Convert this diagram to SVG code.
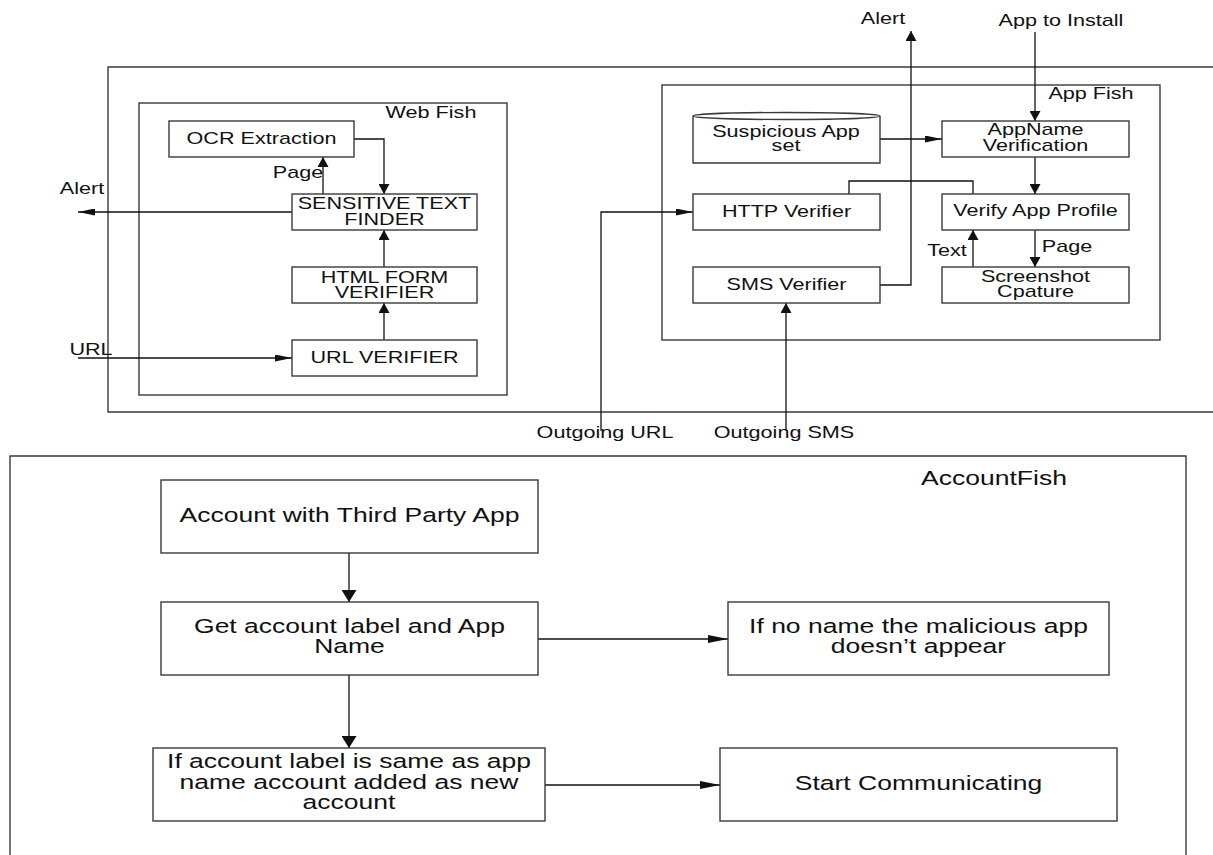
<svg xmlns="http://www.w3.org/2000/svg" width="1213" height="855" viewBox="0 0 1213 855">
  <style>
    .frame { fill: none; stroke: #3a3a3a; stroke-width: 1.4; }
    .box { fill: #ffffff; stroke: #3a3a3a; stroke-width: 1.4; }
    .wire { fill: none; stroke: #111111; stroke-width: 1.3; }
    .t { font-family: "Liberation Sans", Arial, sans-serif; font-size: 16px; fill: #111111; text-anchor: middle; }
    .tl { font-family: "Liberation Sans", Arial, sans-serif; font-size: 19.5px; fill: #111111; text-anchor: middle; }
  </style>
  <defs>
    <!-- arrowheads: horizontal runs get a long slim head, vertical runs a short wide one -->
    <marker id="ah" markerUnits="userSpaceOnUse" markerWidth="17" markerHeight="7" refX="17" refY="3.5" orient="auto">
      <path d="M0,0 L17,3.5 L0,7 Z" fill="#111"/>
    </marker>
    <marker id="av" markerUnits="userSpaceOnUse" markerWidth="10" markerHeight="11" refX="10" refY="5.5" orient="auto">
      <path d="M0,0 L10,5.5 L0,11 Z" fill="#111"/>
    </marker>
    <marker id="ahL" markerUnits="userSpaceOnUse" markerWidth="20" markerHeight="8" refX="20" refY="4" orient="auto">
      <path d="M0,0 L20,4 L0,8 Z" fill="#111"/>
    </marker>
    <marker id="avL" markerUnits="userSpaceOnUse" markerWidth="12" markerHeight="15" refX="12" refY="7.5" orient="auto">
      <path d="M0,0 L12,7.5 L0,15 Z" fill="#111"/>
    </marker>
  </defs>

  <rect width="1213" height="855" fill="#ffffff"/>

  <!-- outer containers -->
  <g id="device">
    <path class="frame" d="M1213,67 H108 V412 H1213"/>
  </g>
  <g id="web-fish">
    <rect class="frame" x="139" y="103" width="368" height="292"/>
    <text class="t" transform="matrix(1.35 0 0 1 431 118)">Web Fish</text>
  </g>
  <g id="app-fish">
    <rect class="frame" x="662" y="85" width="498" height="255"/>
    <text class="t" transform="matrix(1.35 0 0 1 1091 99)">App Fish</text>
  </g>
  <g id="account-fish">
    <path class="frame" d="M10,860 V456 H1186 V860"/>
    <text class="tl" transform="matrix(1.36 0 0 1 994 485)">AccountFish</text>
  </g>

  <!-- connectors -->
  <g id="connectors">
    <path class="wire" d="M354,139 H384 V194" marker-end="url(#av)"/>
    <path class="wire" d="M323,194 V157" marker-end="url(#av)"/>
    <path class="wire" d="M292,212 H78" marker-end="url(#ah)"/>
    <path class="wire" d="M384,267 V230" marker-end="url(#av)"/>
    <path class="wire" d="M384,340 V303" marker-end="url(#av)"/>
    <path class="wire" d="M78,358 H292" marker-end="url(#ah)"/>
    <path class="wire" d="M1035,32 V121" marker-end="url(#av)"/>
    <path class="wire" d="M880,139 H942" marker-end="url(#ah)"/>
    <path class="wire" d="M1035,157 V194" marker-end="url(#av)"/>
    <path class="wire" d="M849,194 V181 H973 V194"/>
    <path class="wire" d="M601,431 V212 H693" marker-end="url(#ah)"/>
    <path class="wire" d="M880,285 H911 V31" marker-end="url(#av)"/>
    <path class="wire" d="M786,431 V303" marker-end="url(#av)"/>
    <path class="wire" d="M1035,230 V267" marker-end="url(#av)"/>
    <path class="wire" d="M973,267 V230" marker-end="url(#av)"/>
    <path class="wire" d="M349,553 V602" marker-end="url(#avL)"/>
    <path class="wire" d="M349,675 V748" marker-end="url(#avL)"/>
    <path class="wire" d="M538,639 H728" marker-end="url(#ahL)"/>
    <path class="wire" d="M545,785 H720" marker-end="url(#ahL)"/>
  </g>

  <!-- connector labels -->
  <g id="labels">
    <text class="t" transform="matrix(1.35 0 0 1 298 178)">Page</text>
    <text class="t" transform="matrix(1.35 0 0 1 82 194)">Alert</text>
    <text class="t" transform="matrix(1.35 0 0 1 91 355)">URL</text>
    <text class="t" transform="matrix(1.35 0 0 1 883 24)">Alert</text>
    <text class="t" transform="matrix(1.35 0 0 1 1061 26)">App to Install</text>
    <text class="t" transform="matrix(1.35 0 0 1 1067 252)">Page</text>
    <text class="t" transform="matrix(1.35 0 0 1 947 256)">Text</text>
    <text class="t" transform="matrix(1.35 0 0 1 605 438)">Outgoing URL</text>
    <text class="t" transform="matrix(1.35 0 0 1 784 438)">Outgoing SMS</text>
  </g>

  <!-- Web Fish nodes -->
  <g id="ocr-extraction">
    <rect class="box" x="169" y="121" width="185" height="36"/>
    <text class="t" transform="matrix(1.35 0 0 1 261.5 144)">OCR Extraction</text>
  </g>
  <g id="sensitive-text-finder">
    <rect class="box" x="292" y="194" width="185" height="36"/>
    <text class="t" transform="matrix(1.35 0 0 1 384.5 209)">SENSITIVE TEXT</text>
    <text class="t" transform="matrix(1.35 0 0 1 384.5 225)">FINDER</text>
  </g>
  <g id="html-form-verifier">
    <rect class="box" x="292" y="267" width="185" height="36"/>
    <text class="t" transform="matrix(1.35 0 0 1 384.5 283)">HTML FORM</text>
    <text class="t" transform="matrix(1.35 0 0 1 384.5 298)">VERIFIER</text>
  </g>
  <g id="url-verifier">
    <rect class="box" x="292" y="340" width="185" height="36"/>
    <text class="t" transform="matrix(1.35 0 0 1 384.5 363)">URL VERIFIER</text>
  </g>

  <!-- App Fish nodes -->
  <g id="suspicious-app-set">
    <path class="box" d="M693,116 V163 H880 V116"/>
    <ellipse class="box" cx="786.5" cy="116" rx="93.5" ry="3.5"/>
    <text class="t" transform="matrix(1.35 0 0 1 786 137)">Suspicious App</text>
    <text class="t" transform="matrix(1.35 0 0 1 786 151)">set</text>
  </g>
  <g id="appname-verification">
    <rect class="box" x="942" y="121" width="187" height="36"/>
    <text class="t" transform="matrix(1.35 0 0 1 1035.5 135)">AppName</text>
    <text class="t" transform="matrix(1.35 0 0 1 1035.5 151)">Verification</text>
  </g>
  <g id="http-verifier">
    <rect class="box" x="693" y="194" width="187" height="36"/>
    <text class="t" transform="matrix(1.35 0 0 1 786.5 217)">HTTP Verifier</text>
  </g>
  <g id="verify-app-profile">
    <rect class="box" x="942" y="194" width="187" height="36"/>
    <text class="t" transform="matrix(1.35 0 0 1 1035.5 216)">Verify App Profile</text>
  </g>
  <g id="sms-verifier">
    <rect class="box" x="693" y="267" width="187" height="36"/>
    <text class="t" transform="matrix(1.35 0 0 1 786.5 290)">SMS Verifier</text>
  </g>
  <g id="screenshot-capture">
    <rect class="box" x="942" y="267" width="187" height="36"/>
    <text class="t" transform="matrix(1.35 0 0 1 1035.5 282)">Screenshot</text>
    <text class="t" transform="matrix(1.35 0 0 1 1035.5 297)">Cpature</text>
  </g>

  <!-- AccountFish nodes -->
  <g id="account-third-party">
    <rect class="box" x="161" y="480" width="377" height="73"/>
    <text class="tl" transform="matrix(1.36 0 0 1 349.5 522)">Account with Third Party App</text>
  </g>
  <g id="get-account-label">
    <rect class="box" x="161" y="602" width="377" height="73"/>
    <text class="tl" transform="matrix(1.36 0 0 1 349.5 633)">Get account label and App</text>
    <text class="tl" transform="matrix(1.36 0 0 1 349.5 653)">Name</text>
  </g>
  <g id="label-matches-name">
    <rect class="box" x="153" y="748" width="392" height="73"/>
    <text class="tl" transform="matrix(1.36 0 0 1 349 768)">If account label is same as app</text>
    <text class="tl" transform="matrix(1.36 0 0 1 349 789)">name account added as new</text>
    <text class="tl" transform="matrix(1.36 0 0 1 349 809)">account</text>
  </g>
  <g id="no-name">
    <rect class="box" x="728" y="602" width="381" height="73"/>
    <text class="tl" transform="matrix(1.36 0 0 1 918.5 633)">If no name the malicious app</text>
    <text class="tl" transform="matrix(1.36 0 0 1 918.5 653)">doesn’t appear</text>
  </g>
  <g id="start-communicating">
    <rect class="box" x="720" y="748" width="397" height="73"/>
    <text class="tl" transform="matrix(1.36 0 0 1 918.5 790)">Start Communicating</text>
  </g>
</svg>
